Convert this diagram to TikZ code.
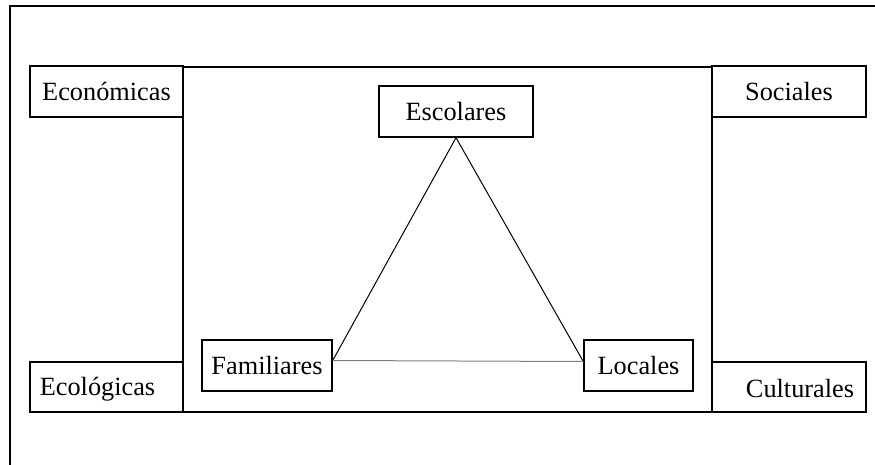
\documentclass[tikz,border=0pt]{standalone}
\usepackage{fontspec}
\setmainfont{Liberation Serif}
\begin{document}
\begin{tikzpicture}[x=1pt,y=-1pt,
  box/.style={draw,line width=1.4pt,inner sep=0pt,font=\fontsize{26.3}{30}\selectfont},
  lbl/.style={font=\fontsize{26.3}{30}\selectfont,inner sep=0pt},
  tri/.style={line width=1pt}]
\useasboundingbox (0,0) rectangle (875,465);
% outer frame (left and top edges visible)
\coordinate (obl) at (10,465);
\coordinate (otl) at (10,6);
\coordinate (otr) at (875,6);
\draw[line width=2pt] (obl) -- (otl) -- (otr);
% central rectangle
\node[draw,line width=1.6pt,minimum width=529pt,minimum height=345pt,inner sep=0pt] (central) at (447.5,239.5) {};
% corner boxes
\node[box,minimum width=153pt,minimum height=51pt] (econ) at (106.5,91.5) {Económicas};
\node[box,minimum width=154pt,minimum height=51pt] (soc) at (789,91.5) {Sociales};
\node[box,minimum width=153pt,minimum height=50pt,label={[lbl,xshift=-9pt,yshift=-2pt]center:Ecológicas}] (ecol) at (106.5,387) {};
\node[box,minimum width=154pt,minimum height=50pt,label={[lbl,xshift=11pt,yshift=-2pt]center:Culturales}] (cult) at (789,387) {};
% inner boxes
\node[box,minimum width=154pt,minimum height=51pt] (esc) at (456,111.5) {Escolares};
\node[box,minimum width=130pt,minimum height=51pt] (fam) at (267,365.5) {Familiares};
\node[box,minimum width=109pt,minimum height=51pt] (loc) at (638.5,365.5) {Locales};
% triangle
\draw[tri] (esc.south) -- ([yshift=5pt]fam.east);
\draw[tri] (esc.south) -- ([yshift=4pt]loc.west);
\draw[tri,gray] ([yshift=5pt]fam.east) -- ([yshift=4pt]loc.west);
\end{tikzpicture}
\end{document}
